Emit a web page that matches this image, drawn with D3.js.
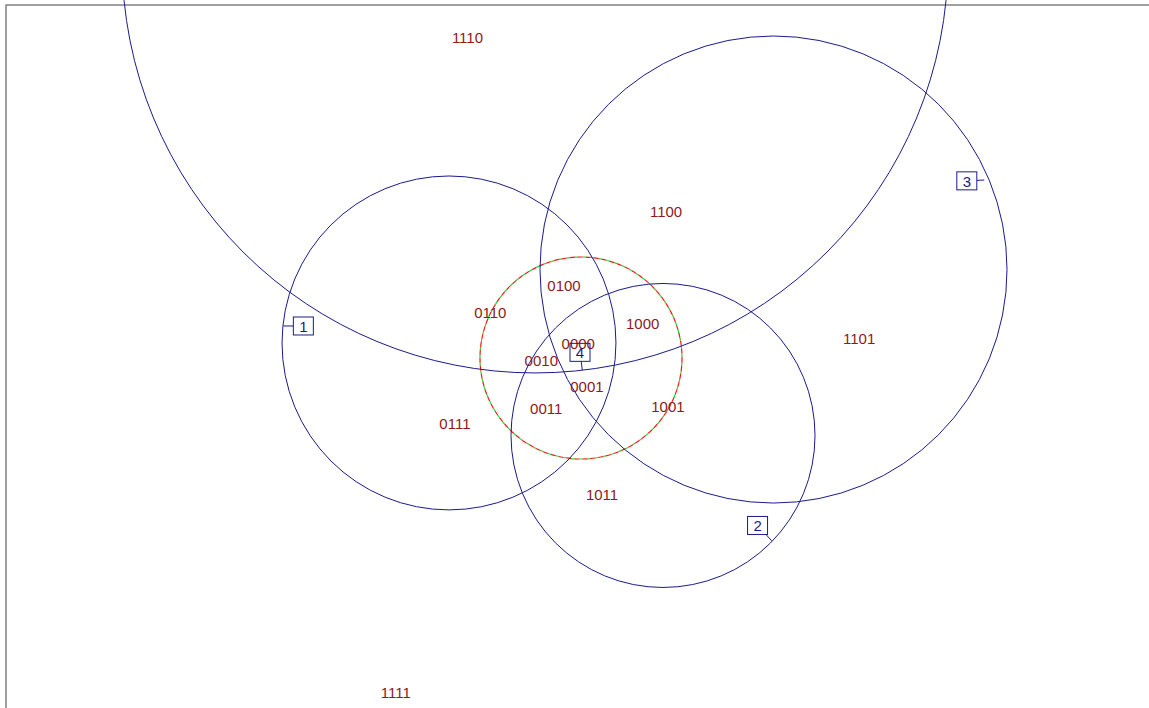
<!DOCTYPE html>
<html>
<head>
<meta charset="utf-8">
<script src="https://cdn.jsdelivr.net/npm/d3@7"></script>
<style>
  html, body { margin: 0; padding: 0; background: #fff; }
  svg { display: block; }
  text { font-family: "Liberation Sans", Arial, Helvetica, sans-serif; }
</style>
</head>
<body>
<script>
const width = 1149;
const height = 708;

// set circles (centre x, centre y, radius) in plot units
const setNames = ["1", "2", "3", "4"];
const setCx = [-1.307, 0.812, 1.906, -0.455];
const setCy = [0.149, -0.767, 0.876, 3.941];
const setR = [1.653, 1.505, 2.312, 4.089];

// dashed reference circle
const refCircle = [0, 0, 1.0];

// set label boxes: text position and leader end on the circle
const setLabelX = [-2.749, 1.748, 3.820, -0.010];
const setLabelY = [0.317, -1.658, 1.754, 0.056];
const leaderX = [-2.950, 1.888, 3.993, 0.013];
const leaderY = [0.317, -1.809, 1.762, -0.119];

// region labels
const regionNames = ["1110", "1100", "0100", "0110", "1000", "1101", "0000",
  "0010", "0001", "0011", "1001", "0111", "1011", "1111"];
const regionX = [-1.124, 0.842, -0.168, -0.898, 0.611, 2.754, -0.027,
  -0.393, 0.059, -0.344, 0.861, -1.248, 0.208, -1.834];
const regionY = [3.170, 1.446, 0.716, 0.455, 0.337, 0.191, 0.139,
  -0.027, -0.284, -0.502, -0.482, -0.644, -1.356, -3.315];

// panel border (left / top edges; the rest falls outside the window)
const panelXMin = -5.693;
const panelYMax = 3.495;

const unit = 101;
const x = d3.scaleLinear().domain([0, 1]).range([581, 581 + unit]);
const y = d3.scaleLinear().domain([0, 1]).range([358, 358 - unit]);

const svg = d3.select("body").append("svg")
  .attr("width", width).attr("height", height);

// frame
svg.append("rect")
  .attr("x", x(panelXMin)).attr("y", y(panelYMax))
  .attr("width", width + 50).attr("height", height + 50)
  .attr("fill", "none").attr("stroke", "#777").attr("stroke-width", 1.4);

const blue = "#1a1a8c";
const red = "#8e1a1a";

// dashed circle: green under red dashes
svg.append("circle")
  .attr("cx", x(refCircle[0])).attr("cy", y(refCircle[1]))
  .attr("r", refCircle[2] * unit)
  .attr("fill", "none").attr("stroke", "#22dd22").attr("stroke-width", 1.2)
  .attr("stroke-dasharray", "3,5").attr("stroke-dashoffset", -5);
svg.append("circle")
  .attr("cx", x(refCircle[0])).attr("cy", y(refCircle[1]))
  .attr("r", refCircle[2] * unit)
  .attr("fill", "none").attr("stroke", "#ee1c1c").attr("stroke-width", 1.2)
  .attr("stroke-dasharray", "5,3");

const sets = setNames.map((n, i) => ({ name: n, cx: setCx[i], cy: setCy[i], r: setR[i],
  lx: setLabelX[i], ly: setLabelY[i], ex: leaderX[i], ey: leaderY[i] }));

svg.append("g").selectAll("circle")
  .data(sets)
  .enter().append("circle")
  .attr("cx", d => x(d.cx))
  .attr("cy", d => y(d.cy))
  .attr("r", d => d.r * unit)
  .attr("fill", "none")
  .attr("stroke", blue)
  .attr("stroke-width", 1);

// region labels
svg.append("g").selectAll("text")
  .data(regionNames)
  .enter().append("text")
  .attr("x", (d, i) => x(regionX[i]))
  .attr("y", (d, i) => y(regionY[i]))
  .attr("text-anchor", "middle")
  .attr("dominant-baseline", "central")
  .attr("font-size", "15px")
  .attr("fill", red)
  .text(d => d);

// set label boxes with leaders
const boxW = 20, boxH = 18;
const labels = svg.append("g");
sets.forEach(d => {
  const cx = x(d.lx), cy = y(d.ly);
  const ex = x(d.ex), ey = y(d.ey);
  const dx = ex - cx, dy = ey - cy;
  const t = Math.min(dx !== 0 ? (boxW / 2) / Math.abs(dx) : Infinity,
                     dy !== 0 ? (boxH / 2) / Math.abs(dy) : Infinity);
  labels.append("line")
    .attr("x1", cx + dx * t).attr("y1", cy + dy * t)
    .attr("x2", ex).attr("y2", ey)
    .attr("stroke", blue).attr("stroke-width", 1);
  labels.append("rect")
    .attr("x", cx - boxW / 2).attr("y", cy - boxH / 2)
    .attr("width", boxW).attr("height", boxH)
    .attr("fill", "none").attr("stroke", blue).attr("stroke-width", 1);
  labels.append("text")
    .attr("x", cx).attr("y", cy + 0.5)
    .attr("text-anchor", "middle")
    .attr("dominant-baseline", "central")
    .attr("font-size", "15px")
    .attr("fill", blue)
    .text(d.name);
});
</script>
</body>
</html>
